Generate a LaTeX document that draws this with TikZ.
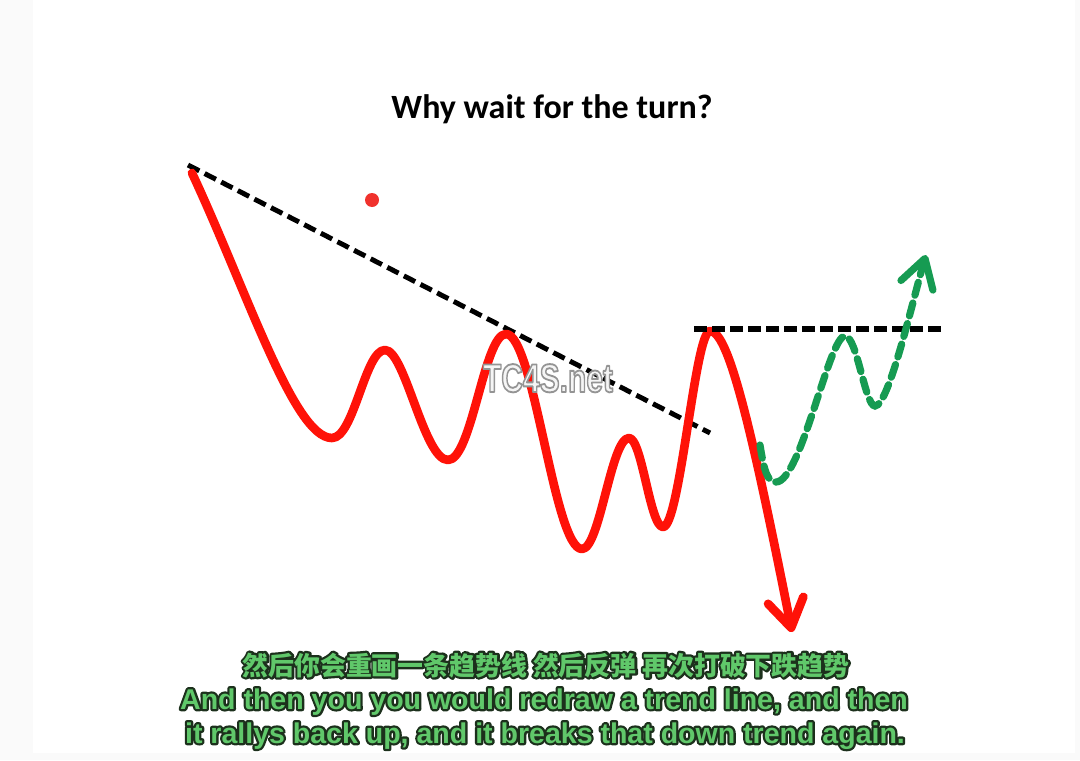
\documentclass[tikz,border=0pt]{standalone}
\usepackage{fontspec}
\setmainfont{Carlito}
\newfontfamily\capfont{Liberation Sans}
\newfontfamily\cjk{Noto Sans CJK SC}
\usepackage{xcolor}
\usetikzlibrary{calc,positioning,arrows.meta}

\definecolor{trendred}{RGB}{255,18,8}
\definecolor{dotred}{RGB}{240,50,45}
\definecolor{rallygreen}{RGB}{22,155,82}
\definecolor{capgreen}{RGB}{96,200,106}
\definecolor{capedge}{RGB}{28,48,28}
\definecolor{margin}{RGB}{250,250,250}

% text drawn as a thick dark stroke (pdf render mode 2)
\newcommand{\edgetext}[1]{%
  \special{pdf:literal direct 2 Tr 3.4 w 1 j 0.11 0.19 0.11 RG 0.11 0.19 0.11 rg}#1%
  \special{pdf:literal direct 0 Tr}}

% light text with a grey rim, for the watermark
\newcommand{\rimtext}[1]{%
  \special{pdf:literal direct 2 Tr 1.4 w 1 j 0.58 0.58 0.58 RG 0.96 0.96 0.96 rg}#1%
  \special{pdf:literal direct 0 Tr}}

% outlined caption line: name, position, font, text
\newcommand{\capline}[4]{%
  \node[caption, text=capedge] (#1-edge) at (#2) {#3\edgetext{#4}};
  \node[caption, text=capgreen] (#1) at (#2) {#3#4};
}

\begin{document}
\begin{tikzpicture}[
            x=0.75pt, y=-0.75pt,
            title/.style={anchor=base, inner sep=0pt, font=\bfseries\fontsize{25.5}{30}\selectfont},
            caption/.style={anchor=base, inner sep=0pt},
            price/.style={draw=trendred, line width=6.5pt, line cap=round, line join=round},
            rally/.style={draw=rallygreen, line width=5.4pt, dash pattern=on 10pt off 6pt},
            trend/.style={draw=black, line width=3.7pt, dash pattern=on 9.5pt off 4.5pt},
            level/.style={draw=black, line width=5.2pt, dash pattern=on 9.5pt off 4pt},
            watermark/.style={anchor=base, inner sep=0pt, xscale=0.75, font=\capfont\bfseries\fontsize{30}{34}\selectfont}
        ]

        % --- PAGE ---
        \useasboundingbox (0,0) rectangle (1080,760);
        \fill[margin] (0,0) rectangle (33,760);
        \fill[margin] (1075,0) rectangle (1080,760);
        \fill[margin] (0,753) rectangle (1080,760);

        % --- TITRE ---
        \node[title] (title) at (552,118) {Why wait for the turn?};

        % --- POINTS DU PRIX ---
        \coordinate (start) at (192,173);
        \coordinate (lo1) at (332,438);
        \coordinate (hi1) at (385,350);
        \coordinate (lo2) at (448,460);
        \coordinate (hi2) at (506,334);
        \coordinate (lo3) at (582,549);
        \coordinate (hi3) at (629,438);
        \coordinate (lo4) at (663,527);
        \coordinate (hi4) at (710,331);
        \coordinate (drop) at (792,632);

        % --- LIGNES DE TENDANCE ---
        \coordinate (trendA) at (188,165);
        \coordinate (trendB) at (710,433);
        \coordinate (levelA) at (694,329);
        \coordinate (levelB) at (943,329);
        \draw[trend] (trendA) -- (trendB);

        % --- PRIX (rouge) ---
        \draw[price, -{Straight Barb[length=21pt, width=27pt, round]}]
        (start) .. controls +(55,118) and +(-38,0) .. (lo1)
        .. controls +(22,0) and +(-20,0) .. (hi1)
        .. controls +(20,0) and +(-24,0) .. (lo2)
        .. controls +(24,0) and +(-22,0) .. (hi2)
        .. controls +(28,0) and +(-28,0) .. (lo3)
        .. controls +(18,0) and +(-18,0) .. (hi3)
        .. controls +(13,0) and +(-13,0) .. (lo4)
        .. controls +(17,0) and +(-15,0) .. (hi4)
        .. controls +(18,0) and +(-42,-212) .. (drop);

        \draw[level] (levelA) -- (levelB);
        \fill[dotred] (372,200) circle (7);

        % --- SCENARIO (vert) ---
        \coordinate (g0) at (760,445);
        \coordinate (glo1) at (776,482);
        \coordinate (ghi1) at (845,336);
        \coordinate (glo2) at (875,406);
        \coordinate (gtip) at (926,255);
        \draw[rally, line cap=round, -{Straight Barb[length=21pt, width=25pt, round]}]
        (g0) .. controls +(4,25) and +(-9,0) .. (glo1)
        .. controls +(25,0) and +(-16,0) .. (ghi1)
        .. controls +(12,0) and +(-10,0) .. (glo2)
        .. controls +(14,0) and +(-12,40) .. (gtip);

        % --- FILIGRANE ---
        \node[watermark, text=gray!6] (mark) at (548,392) {\rimtext{TC4S.net}};

        % --- SOUS-TITRES ---
        \capline{zh}{546,675}{\cjk\bfseries\fontsize{19.4}{22}\selectfont}{然后你会重画一条趋势线 然后反弹 再次打破下跌趋势}
        \capline{enA}{544,709}{\capfont\bfseries\fontsize{21.4}{24}\selectfont}{And then you you would redraw a trend line, and then}
        \capline{enB}{545,743}{\capfont\bfseries\fontsize{21.4}{24}\selectfont}{it rallys back up, and it breaks that down trend again.}

    \end{tikzpicture}
\end{document}
